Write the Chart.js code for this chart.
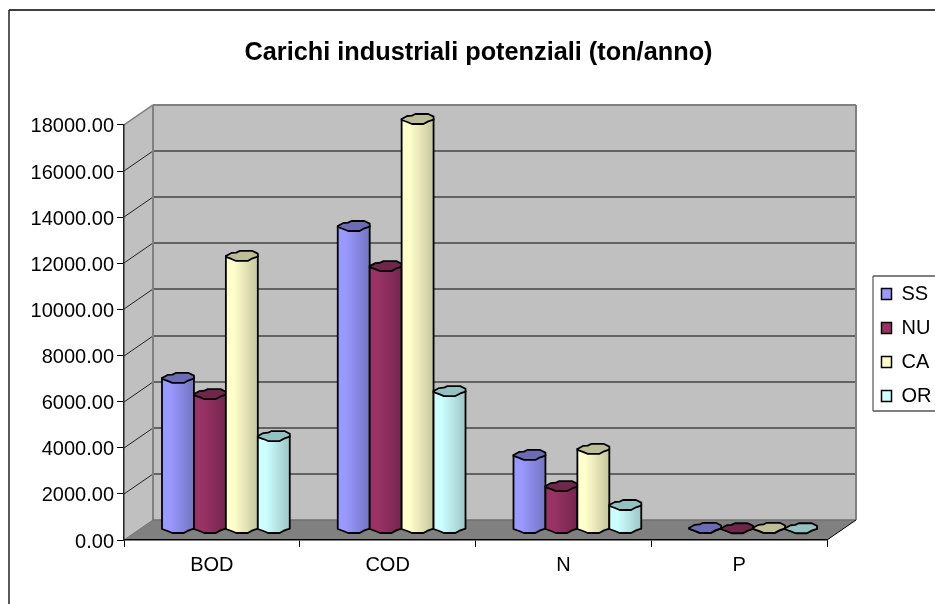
<!DOCTYPE html>
<html>
    <head>
        <meta charset="utf-8">
        <title>Carichi industriali potenziali</title>
        <script src="https://cdn.jsdelivr.net/npm/chart.js@4.4.1"></script>
        <style>
            html, body {
                margin: 0;
                padding: 0;
                background: #fff;
            }
            canvas {
                display: block;
            }
        </style>
    </head>
    <body>
        <canvas id="vis" width="935" height="604"></canvas>
        <script>
            const categories = ['BOD', 'COD', 'N', 'P'];
            const seriesNames = ['SS', 'NU', 'CA', 'OR'];
            const ssValues = [6530, 13120, 3190, 30];
            const nuValues = [5830, 11380, 1840, 10];
            const caValues = [11820, 17760, 3450, 30];
            const orValues = [4010, 5960, 1020, 10];
            const tickStep = 2000;
            const axisMax = 18000;

            const baseColors = ['#9999FF', '#993366', '#FFFFCC', '#CCFFFF'];
            const shadeColors = ['#7474C2', '#74264D', '#C6C69E', '#9EC6C6'];
            const capColors = ['#6C6CB4', '#6E264B', '#BDBD98', '#94C2C2'];

            // depth of the 3D box, and where the columns sit inside it
            const wallDx = 29, wallDy = -20;
            const barDx = 14, barDy = -11.5;
            const capHeight = 5;
            const capShape = [[-1, 0], [-.65, -.6], [-.35, -.67], [-.14, -1], [.67, -1], [1, -.47],
                [1, .13], [.67, .47], [.37, 1], [-.35, 1], [-.65, .6], [-1, .2]];
            const lowerShape = capShape.slice(6, 11);

            function line(ctx, x1, y1, x2, y2, color, width) {
                ctx.strokeStyle = color;
                ctx.lineWidth = width;
                ctx.beginPath();
                ctx.moveTo(x1, y1);
                ctx.lineTo(x2, y2);
                ctx.stroke();
            }

            function poly(ctx, pts, fill) {
                ctx.fillStyle = fill;
                ctx.beginPath();
                pts.forEach((p, i) => i ? ctx.lineTo(p[0], p[1]) : ctx.moveTo(p[0], p[1]));
                ctx.closePath();
                ctx.fill();
            }

            const box3d = {
                id: 'box3d',
                afterLayout(chart) {
                    const legend = chart.legend;
                    legend.left = 867.5;
                    legend.right = 935;
                    legend.top = 270;
                    legend.bottom = 440;
                    legend.width = 67.5;
                    legend.height = 170;
                    chart.titleBlock.left = 0;
                    chart.titleBlock.right = 957;
                    chart.titleBlock.width = 957;
                },
                beforeDraw(chart) {
                    const ctx = chart.ctx;
                    const y = chart.scales.y;
                    const x = chart.scales.x;
                    const l = x.left, r = x.right, b = y.bottom, t = y.top;
                    ctx.save();

                    // outer frame of the sheet, cut by the photo on the right and bottom
                    line(ctx, 9, 10, 935, 10, '#000', 1.5);
                    line(ctx, 9, 10, 9, 604, '#222', 1.5);

                    // walls and floor
                    poly(ctx, [[l, t], [l + wallDx, t + wallDy], [r + wallDx, t + wallDy], [r + wallDx, b + wallDy], [l + wallDx, b + wallDy], [l, b]], '#C0C0C0');
                    poly(ctx, [[l, b], [l + wallDx, b + wallDy], [r + wallDx, b + wallDy], [r, b]], '#808080');

                    // gridlines run across the side wall and the back wall
                    for (let v = tickStep; v < axisMax; v += tickStep) {
                        const py = Math.round(y.getPixelForValue(v));
                        line(ctx, l, py, l + wallDx, py + wallDy, '#222', 1);
                        line(ctx, l + wallDx, py + wallDy, r + wallDx, py + wallDy, '#444', 1.5);
                    }
                    line(ctx, l, t, l + wallDx, t + wallDy, '#808080', 1.5);
                    line(ctx, l + wallDx, t + wallDy, r + wallDx, t + wallDy, '#808080', 2);
                    line(ctx, l + wallDx, t + wallDy, l + wallDx, b + wallDy, '#808080', 2);
                    line(ctx, r + wallDx, t + wallDy, r + wallDx, b + wallDy, '#808080', 2);
                    line(ctx, l, b, l + wallDx, b + wallDy, '#707070', 1);
                    line(ctx, l + wallDx, b + wallDy, r + wallDx, b + wallDy, '#707070', 1.5);
                    line(ctx, r, b, r + wallDx, b + wallDy, '#000', 1);

                    // legend box
                    line(ctx, 873, 276, 935, 276, '#000', 1);
                    line(ctx, 873, 276, 873, 411, '#333', 1);
                    line(ctx, 873, 411, 935, 411, '#555', 1.5);
                    ctx.restore();
                },
                beforeDatasetsDraw(chart) {
                    const ctx = chart.ctx;
                    ctx.save();
                    ctx.lineJoin = 'round';
                    chart.data.datasets.forEach((ds, i) => {
                        chart.getDatasetMeta(i).data.forEach(bar => {
                            const cx = bar.x + barDx;
                            const hw = bar.width / 2;
                            const top = bar.y + barDy;
                            const base = bar.base + barDy;

                            const grad = ctx.createLinearGradient(cx - hw, 0, cx + hw, 0);
                            grad.addColorStop(0, baseColors[i]);
                            grad.addColorStop(0.25, baseColors[i]);
                            grad.addColorStop(1, shadeColors[i]);

                            const body = [[cx - hw, top], [cx - hw, base + capHeight * .2]];
                            lowerShape.slice().reverse().forEach(p => body.push([cx + p[0] * hw, base + p[1] * capHeight]));
                            body.push([cx + hw, top]);
                            poly(ctx, body, grad);
                            ctx.strokeStyle = '#000';
                            ctx.lineWidth = 1.8;
                            ctx.stroke();

                            poly(ctx, capShape.map(p => [cx + p[0] * hw, top + p[1] * capHeight]), capColors[i]);
                            ctx.stroke();
                        });
                    });
                    ctx.restore();
                    return false;
                }
            };

            const seriesValues = [ssValues, nuValues, caValues, orValues];
            const fontFamily = '"Liberation Sans", Arial, sans-serif';

            new Chart(document.getElementById('vis'), {
                type: 'bar',
                plugins: [box3d],
                data: {
                    labels: categories,
                    datasets: seriesNames.map((label, i) => ({
                        label,
                        data: seriesValues[i],
                        backgroundColor: baseColors[i],
                        borderColor: '#000',
                        borderWidth: 1.5,
                        barPercentage: 1,
                        categoryPercentage: 0.727
                    }))
                },
                options: {
                    responsive: false,
                    animation: false,
                    layout: {
                        padding: { left: 0, top: 0, right: 108, bottom: 0 }
                    },
                    plugins: {
                        tooltip: { enabled: false },
                        title: {
                            display: true,
                            text: 'Carichi industriali potenziali (ton/anno)',
                            color: '#000',
                            font: { family: fontFamily, size: 25.3, weight: 'bold' },
                            padding: { top: 38, bottom: 56.6 }
                        },
                        legend: {
                            position: 'chartArea',
                            align: 'start',
                            labels: {
                                color: '#000',
                                font: { family: fontFamily, size: 20 },
                                boxWidth: 10,
                                boxHeight: 11,
                                padding: 14
                            }
                        }
                    },
                    scales: {
                        x: {
                            afterFit: scale => { scale.height = 64; },
                            border: { color: '#000', width: 1.5 },
                            grid: { drawOnChartArea: false, tickLength: 7, tickColor: '#000' },
                            ticks: {
                                color: '#000',
                                font: { family: fontFamily, size: 20 },
                                padding: 6,
                                maxRotation: 0
                            }
                        },
                        y: {
                            min: 0,
                            max: axisMax,
                            afterFit: scale => { scale.width = 124; },
                            border: { color: '#222', width: 1.5 },
                            grid: { drawOnChartArea: false, tickLength: 7, tickColor: '#000' },
                            ticks: {
                                stepSize: tickStep,
                                color: '#000',
                                font: { family: fontFamily, size: 20 },
                                padding: 3,
                                labelOffset: 2,
                                callback: v => v.toFixed(2)
                            }
                        }
                    }
                }
            });
        </script>
    </body>
</html>
